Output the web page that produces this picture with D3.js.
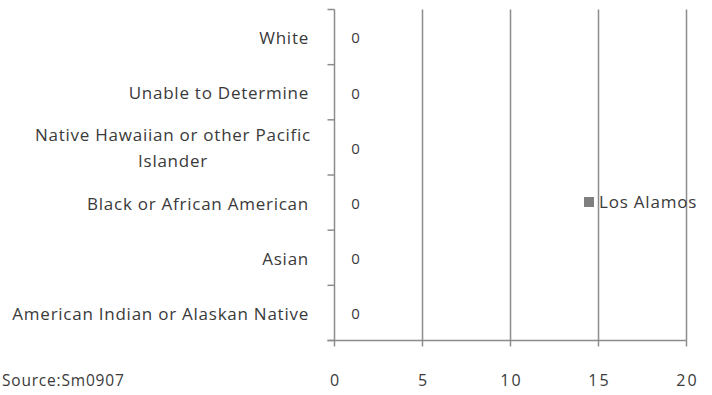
<!DOCTYPE html>
<html><head><meta charset="utf-8">
<script src="https://cdn.jsdelivr.net/npm/d3@7"></script>
<style>body{margin:0;background:#fff}svg text{font-family:"Open Sans",sans-serif;fill:#3a3a3a}</style>
</head><body><svg id="c" width="712" height="395"></svg>
<script>
const categories = ["White","Unable to Determine","Native Hawaiian  or other Pacific|Islander","Black or African American","Asian","American Indian or Alaskan Native"];
const seriesName = "Los Alamos";
const values = [0,0,0,0,0,0];
const xTicks = [0,5,10,15,20];
const sourceText = "Source:Sm0907";

const svg = d3.select("#c");
const x = d3.scaleLinear().domain([0,20]).range([334.5,686.5]);
const y = d3.scaleBand().domain(categories).range([9.5,340.5]);
const axisColor = "#8c8c8c";
const FS = 17, LS = 0.75;

// gridlines
svg.append("g").selectAll("line").data(xTicks.slice(1)).join("line")
  .attr("x1",d=>x(d)).attr("x2",d=>x(d)).attr("y1",y.range()[0]).attr("y2",y.range()[1])
  .attr("stroke",axisColor).attr("stroke-width",1.5);

// bars (all zero)
svg.append("g").selectAll("rect").data(values).join("rect")
  .attr("x",x(0)).attr("y",(d,i)=>y(categories[i])+y.bandwidth()*0.25)
  .attr("width",d=>x(d)-x(0)).attr("height",y.bandwidth()*0.5).attr("fill","#7f7f7f");

// y axis
const ya = svg.append("g").attr("transform",`translate(${x(0)},0)`);
ya.append("line").attr("y1",y.range()[0]).attr("y2",y.range()[1]).attr("stroke",axisColor).attr("stroke-width",1.5);
const bounds = categories.map(c=>y(c)).concat([y.range()[1]]);
ya.selectAll("line.t").data(bounds).join("line").attr("class","t")
  .attr("x1",-7).attr("x2",0).attr("y1",d=>d).attr("y2",d=>d).attr("stroke",axisColor).attr("stroke-width",1.5);

// x axis
const xa = svg.append("g").attr("transform",`translate(0,${y.range()[1]})`);
xa.append("line").attr("x1",x(0)-7).attr("x2",x(20)).attr("stroke",axisColor).attr("stroke-width",1.5);
xa.selectAll("line.t").data(xTicks).join("line").attr("class","t")
  .attr("x1",d=>x(d)).attr("x2",d=>x(d)).attr("y1",0).attr("y2",6).attr("stroke",axisColor).attr("stroke-width",1.5);
xa.selectAll("text").data(xTicks).join("text")
  .attr("x",d=>x(d)+1).attr("y",40).attr("dy","0.35em").attr("text-anchor","middle").attr("font-size",16).attr("letter-spacing",2).text(d=>d);

// category labels
categories.forEach((c,i)=>{
  const lines = c.split("|");
  const cy = y(c)+y.bandwidth()/2;
  if(lines.length===1){
    svg.append("text").attr("x",309).attr("y",cy+1).attr("dy","0.35em").attr("text-anchor","end")
      .attr("font-size",FS).attr("letter-spacing",LS).text(c);
  } else {
    const t = svg.append("text").attr("font-size",FS).attr("letter-spacing",LS).attr("text-anchor","end")
      .attr("x",311).attr("y",cy-12).attr("dy","0.35em").text(lines[0]);
    const w = t.node().getComputedTextLength();
    svg.append("text").attr("font-size",FS).attr("letter-spacing",LS).attr("text-anchor","middle")
      .attr("x",311-w/2).attr("y",cy+14).attr("dy","0.35em").text(lines[1]);
  }
});

// data labels
svg.append("g").selectAll("text").data(values).join("text")
  .attr("x",d=>x(d)+21).attr("y",(d,i)=>y(categories[i])+y.bandwidth()/2+1).attr("dy","0.35em")
  .attr("text-anchor","middle").attr("font-size",15).text(d=>d);

// legend
const lg = svg.append("g").attr("transform","translate(584,202)");
lg.append("rect").attr("x",0).attr("y",-5).attr("width",10).attr("height",10).attr("fill","#7f7f7f");
lg.append("text").attr("x",15).attr("y",0).attr("dy","0.35em").attr("font-size",FS).attr("letter-spacing",0.8).text(seriesName);

// source (kept fully visible)
svg.append("text").attr("x",2).attr("y",381).attr("dy","0.35em").attr("text-anchor","start")
  .attr("font-size",15.5).attr("letter-spacing",0.8).text(sourceText);
</script></body></html>
